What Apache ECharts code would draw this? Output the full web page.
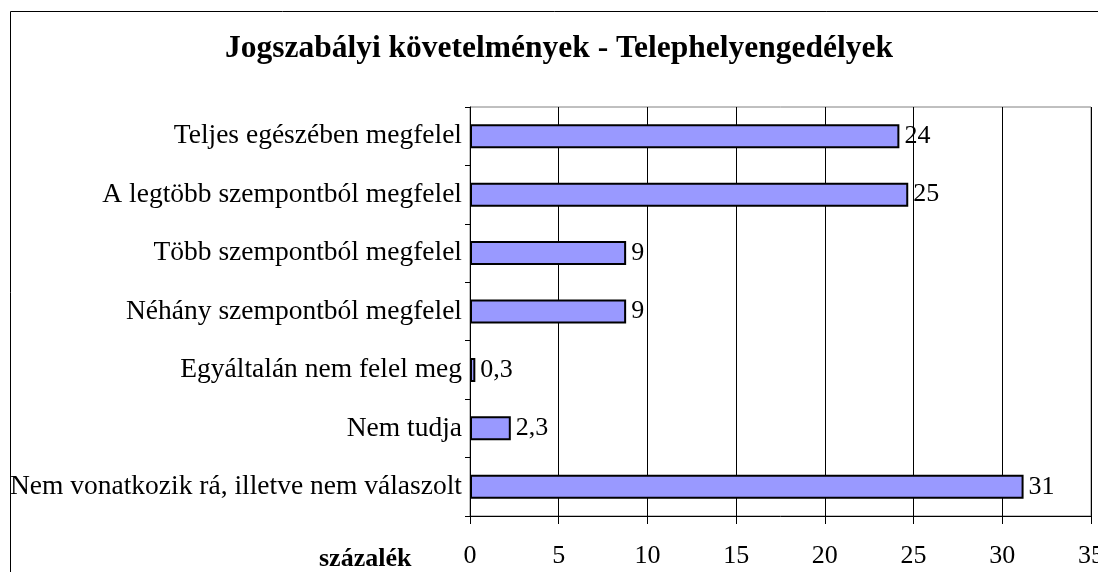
<!DOCTYPE html>
<html>
<head>
<meta charset="utf-8">
<script src="https://cdn.jsdelivr.net/npm/echarts@6/dist/echarts.min.js"></script>
<style>
  html, body { margin: 0; padding: 0; background: #fff; }
  #chart { width: 1098px; height: 572px; }
</style>
</head>
<body>
<div id="chart"></div>
<script>
const categories = [
  'Teljes egészében megfelel',
  'A legtöbb szempontból megfelel',
  'Több szempontból megfelel',
  'Néhány szempontból megfelel',
  'Egyáltalán nem felel meg',
  'Nem tudja',
  'Nem vonatkozik rá, illetve nem válaszolt'
]
const values = [24.2, 24.7, 8.8, 8.8, 0.3, 2.3, 31.2]
const valueLabels = ['24', '25', '9', '9', '0,3', '2,3', '31']
const xTicks = { min: 0, max: 35, interval: 5 }

const serif = "'Liberation Serif', 'Times New Roman', serif"
const chart = echarts.init(document.getElementById('chart'))

const option = {
  animation: false,
  title: [
    {
      text: 'Jogszabályi követelmények - Telephelyengedélyek',
      left: 554,
      top: 28,
      textAlign: 'center',
      textStyle: { fontFamily: serif, fontSize: 31.5, fontWeight: 'bold', color: '#000' }
    },
    {
      text: 'százalék',
      left: 314,
      top: 541,
      textStyle: { fontFamily: serif, fontSize: 26, fontWeight: 'bold', color: '#000' }
    }
  ],
  graphic: [
    {
      type: 'rect',
      z: -10,
      shape: { x: 10.5, y: 11.5, width: 1200, height: 700 },
      style: { fill: 'none', stroke: '#000', lineWidth: 1 }
    }
  ],
  grid: {
    left: 470,
    right: 7,
    top: 107,
    bottom: 56,
    outerBoundsMode: 'none',
    containLabel: false,
    show: true,
    borderColor: '#808080',
    borderWidth: 1
  },
  xAxis: {
    type: 'value',
    min: xTicks.min,
    max: xTicks.max,
    interval: xTicks.interval,
    axisLine: { show: true, lineStyle: { color: '#000', width: 1 } },
    axisTick: { show: true, length: 8, lineStyle: { color: '#000' } },
    splitLine: { show: true, lineStyle: { color: '#000', width: 1 } },
    axisLabel: { fontFamily: serif, fontSize: 26, color: '#000', margin: 27, hideOverlap: false }
  },
  yAxis: {
    type: 'category',
    inverse: true,
    data: categories,
    axisLine: { show: true, lineStyle: { color: '#000', width: 1 } },
    axisTick: { show: true, length: 5, lineStyle: { color: '#000' } },
    axisLabel: { fontFamily: serif, fontSize: 27.5, color: '#000', margin: 8 }
  },
  series: [
    {
      type: 'bar',
      data: values,
      barWidth: 24,
      itemStyle: { color: '#9999FF', borderColor: '#000', borderWidth: 2 },
      label: {
        show: true,
        position: 'right',
        distance: 5,
        fontFamily: serif,
        fontSize: 26,
        color: '#000',
        formatter: p => valueLabels[p.dataIndex]
      }
    }
  ]
}
chart.setOption(option)
</script>
</body>
</html>
